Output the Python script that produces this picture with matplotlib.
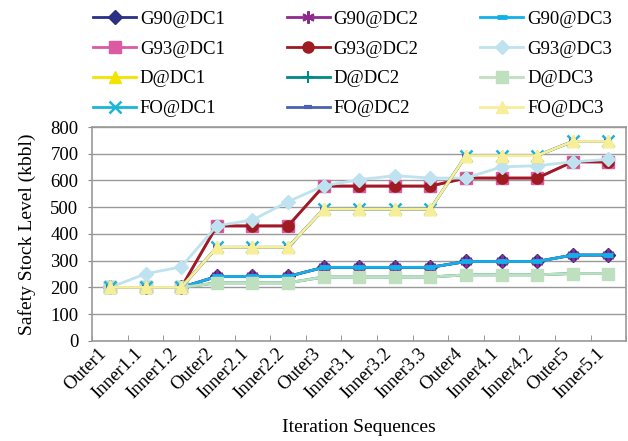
import numpy as np
import matplotlib.pyplot as plt

plt.rcParams['font.family'] = ['Liberation Serif', 'DejaVu Serif']

categories = ['Outer1', 'Inner1.1', 'Inner1.2', 'Outer2', 'Inner2.1', 'Inner2.2',
              'Outer3', 'Inner3.1', 'Inner3.2', 'Inner3.3', 'Outer4', 'Inner4.1',
              'Inner4.2', 'Outer5', 'Inner5.1']

# values (kbbl)
g90 = [200, 200, 200, 241, 241, 241, 275, 275, 275, 275, 297, 297, 297, 321, 321]
g93 = [200, 200, 200, 430, 430, 430, 579, 579, 579, 579, 609, 609, 609, 670, 669]
g93_dc3 = [200, 251, 277, 431, 452, 521, 580, 603, 618, 609, 609, 651, 655, 670, 679]
diesel = [200, 200, 200, 350, 350, 350, 493, 493, 493, 493, 693, 693, 693, 746, 746]
d_dc3 = [200, 200, 200, 217, 217, 217, 239, 239, 239, 239, 247, 247, 247, 252, 252]

series = [
    ('G90@DC1', g90, '#2B2F86', 'D', 7, 1.0),
    ('G90@DC2', g90, '#8E2A8E', (6, 2, 0), 9, 1.5),
    ('G90@DC3', g90, '#12B0E8', '_', 7, 3.5),
    ('G93@DC1', g93, '#DC5AA2', 's', 8, 1.0),
    ('G93@DC2', g93, '#9E1B22', 'o', 8, 1.0),
    ('G93@DC3', g93_dc3, '#BEE2F0', 'D', 7, 1.0),
    ('D@DC1', diesel, '#F2E400', '^', 8, 1.0),
    ('D@DC2', d_dc3, '#008A82', '+', 9, 1.5),
    ('D@DC3', d_dc3, '#BFE0BF', 's', 8, 1.0),
    ('FO@DC1', diesel, '#1AB6D6', 'x', 8, 1.8),
    ('FO@DC2', diesel, '#4A62B0', '_', 6, 3.0),
    ('FO@DC3', diesel, '#F7EE9A', '^', 8, 1.0),
]

fig = plt.figure(figsize=(6.28, 4.41), dpi=100)
ax = fig.add_axes([0.147, 0.227, 0.85, 0.485])

x = np.arange(len(categories))
handles = []
for label, vals, color, marker, ms, mew in series:
    h, = ax.plot(x, vals, color=color, lw=2, marker=marker, ms=ms,
                 mec=color, mfc=color, mew=mew, label=label)
    handles.append(h)

ax.set_xlim(-0.5, len(categories) - 0.5)
ax.set_ylim(0, 800)
ax.set_yticks(range(0, 801, 100))
ax.yaxis.grid(True, color='#999999', lw=1)
ax.set_axisbelow(True)
ax.set_xticks(x)
ax.set_xticklabels(categories, rotation=45, ha='right', fontsize=13.5)
ax.set_xticks(np.arange(-0.5, len(categories)), minor=True)
ax.tick_params(axis='x', which='major', length=0, pad=3)
ax.tick_params(axis='x', which='minor', direction='in', length=4, color='#888888')
ax.tick_params(axis='y', length=3, color='#888888', labelsize=13.5, pad=7)
for side in ax.spines.values():
    side.set_color('#999999')
    side.set_linewidth(1.2)

ax.set_ylabel('Safety Stock Level (kbbl)', fontsize=14, labelpad=10)
ax.set_xlabel('Iteration Sequences', fontsize=14, labelpad=12)

# legend laid out row-wise, 3 columns
order = [0, 3, 6, 9, 1, 4, 7, 10, 2, 5, 8, 11]
fig.legend([handles[i] for i in order], [series[i][0] for i in order],
           ncol=3, loc='upper left', bbox_to_anchor=(0.148, 0.976),
           frameon=False, fontsize=13.5, handlelength=2.3, handletextpad=0.2,
           columnspacing=3.3, labelspacing=0.68, borderpad=0, borderaxespad=0)

fig.savefig('out.png', dpi=100)
